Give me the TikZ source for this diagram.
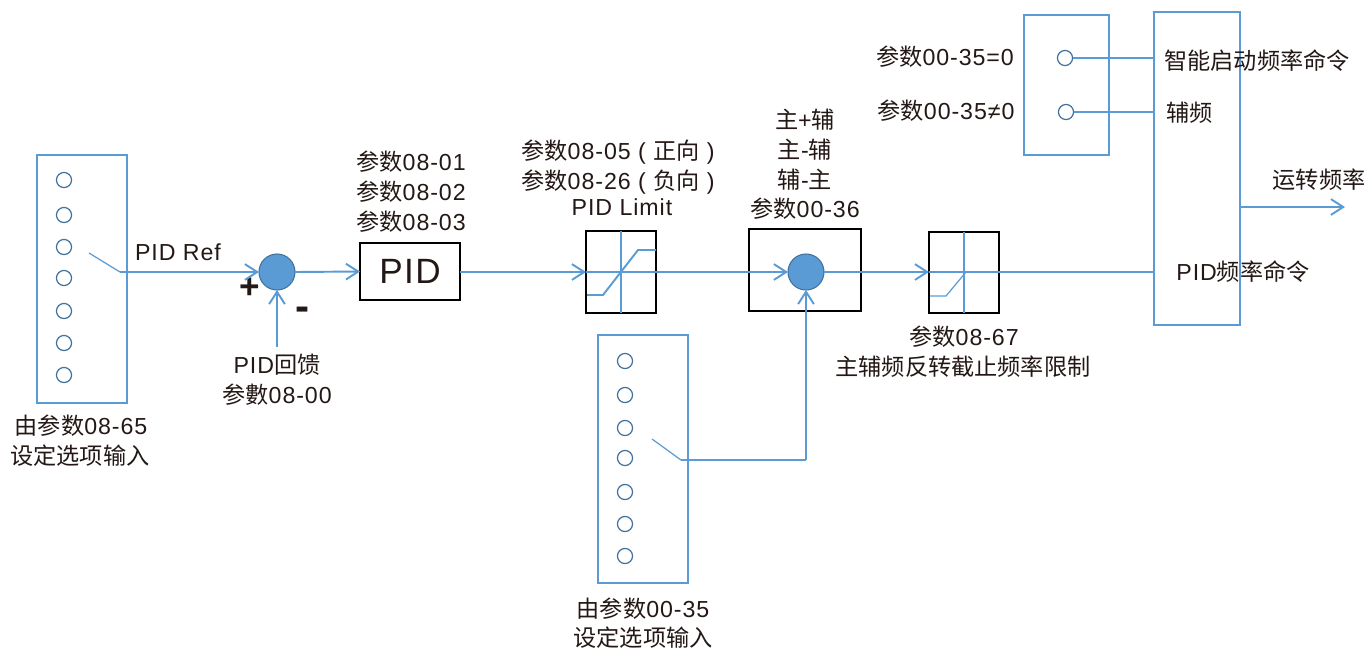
\documentclass[tikz,border=0pt]{standalone}
\usepackage{fontspec}
\setmainfont[LetterSpace=4]{Liberation Sans}
\newfontfamily\cjk{Noto Sans CJK SC}
\usetikzlibrary{arrows.meta}
\definecolor{wireblue}{HTML}{5B9BD5}
\definecolor{ringblue}{HTML}{41719C}
\definecolor{inkblack}{HTML}{231815}
\tikzset{
	wire/.style={draw=wireblue, line width=1.1pt},
	thinwire/.style={draw=wireblue, line width=0.7pt},
	feed/.style={wire, -{Straight Barb[length=7pt,width=9pt]}},
	bluebox/.style={draw=wireblue, line width=0.8pt, inner sep=0, outer sep=0},
	blackbox/.style={draw=black, line width=0.7pt, inner sep=0, outer sep=0},
	ring/.style={circle, draw=ringblue, line width=0.7pt, minimum size=8.6pt, inner sep=0, outer sep=0},
	sumdot/.style={circle, draw=ringblue, fill=wireblue, line width=0.6pt, minimum size=20.5pt, inner sep=0, outer sep=0},
	lbl/.style={text=inkblack, inner sep=0, font=\fontsize{13.2}{16}\selectfont, text height=9.5pt, text depth=2pt},
}
\begin{document}
\begin{tikzpicture}[x=0.02cm, y=-0.02cm]
	\useasboundingbox (0,0) rectangle (1367,650);
	% selector at the left
	\node[bluebox, minimum width=51.2pt, minimum height=141pt] (refbox) at (82,279) {};
	\node[ring] (refa) at (64,180) {};
	\node[ring] (refb) at (64,215) {};
	\node[ring] (refc) at (64,247) {};
	\node[ring] (refd) at (64,278) {};
	\node[ring] (refe) at (64,311) {};
	\node[ring] (reff) at (64,343) {};
	\node[ring] (refg) at (64,375) {};
	\coordinate (refarm) at (89,253);
	\coordinate (refpivot) at (120,272);
	\node[lbl] (reflabela) at (81,428) {{\cjk 由参数}08-65};
	\node[lbl] (reflabelb) at (80,458) {{\cjk 设定选项输入}};
	\node[lbl] (refname) at (178,254) {PID Ref};

	% PID
	\node[sumdot] (sumpid) at (277,272) {};
	\node[blackbox, minimum width=56.9pt, minimum height=32.4pt, font=\fontsize{20}{24}\selectfont, text=inkblack] (pid) at (410,271.5) {PID};
	\node[lbl, font=\fontsize{20}{24}\bfseries\selectfont] (plus) at (250,292) {+};
	\node[lbl, font=\fontsize{24}{24}\bfseries\selectfont] (minus) at (303,314) {-};
	\coordinate (fbstart) at (277,347);
	\node[lbl] (fblabela) at (277,367) {PID{\cjk 回馈}};
	\node[lbl] (fblabelb) at (277,397) {{\cjk 参數}08-00};
	\node[lbl] (pidpa) at (411,164) {{\cjk 参数}08-01};
	\node[lbl] (pidpb) at (411,194) {{\cjk 参数}08-02};
	\node[lbl] (pidpc) at (411,224) {{\cjk 参数}08-03};

	% limit
	\node[blackbox, minimum width=39.8pt, minimum height=46.7pt] (limit) at (621,272) {};
	\coordinate (limita) at (587,295);
	\coordinate (limitb) at (603,295);
	\coordinate (limitc) at (638,250);
	\coordinate (limitd) at (656,250);
	\node[lbl] (limpa) at (618,153) {{\cjk 参数}08-05 ( {\cjk 正向} )};
	\node[lbl] (limpb) at (618,183) {{\cjk 参数}08-26 ( {\cjk 负向} )};
	\node[lbl] (limname) at (622,209) {PID Limit};

	% main and aux
	\node[blackbox, minimum width=63.7pt, minimum height=46.7pt] (mixbox) at (805,270) {};
	\node[sumdot] (summix) at (806,272) {};
	\node[lbl] (mixa) at (805,122) {{\cjk 主}+{\cjk 辅}};
	\node[lbl] (mixb) at (805,152) {{\cjk 主}-{\cjk 辅}};
	\node[lbl] (mixc) at (805,182) {{\cjk 辅}-{\cjk 主}};
	\node[lbl] (mixd) at (805,211) {{\cjk 参数}00-36};

	% selector at the bottom
	\node[bluebox, minimum width=51.2pt, minimum height=141pt] (auxbox) at (643,459) {};
	\node[ring] (auxa) at (625,361) {};
	\node[ring] (auxb) at (625,395) {};
	\node[ring] (auxc) at (625,428) {};
	\node[ring] (auxd) at (625,458) {};
	\node[ring] (auxe) at (625,492) {};
	\node[ring] (auxf) at (625,524) {};
	\node[ring] (auxg) at (625,556) {};
	\coordinate (auxarm) at (652,439);
	\coordinate (auxpivot) at (681,460);
	\coordinate (auxcorner) at (806,460);
	\node[lbl] (auxlabela) at (643,611) {{\cjk 由参数}00-35};
	\node[lbl] (auxlabelb) at (643,640) {{\cjk 设定选项输入}};

	% reverse cut-off
	\node[blackbox, minimum width=39.8pt, minimum height=46.2pt] (revbox) at (964,272.5) {};
	\coordinate (reva) at (930,296);
	\coordinate (revb) at (946,296);
	\coordinate (revc) at (966,272);
	\node[lbl] (revpa) at (964,339) {{\cjk 参数}08-67};
	\node[lbl] (revpb) at (963,369) {{\cjk 主辅频反转截止频率限制}};

	% output side
	\node[bluebox, minimum width=48.9pt, minimum height=178.1pt] (outbox) at (1197,168.5) {};
	\node[bluebox, minimum width=48.4pt, minimum height=79.7pt] (srcbox) at (1066.5,85) {};
	\node[ring] (srca) at (1065,58) {};
	\node[ring] (srcb) at (1066,112) {};
	\node[lbl] (srcpa) at (945,59) {{\cjk 参数}00-35=0};
	\node[lbl] (srcpb) at (946,113) {{\cjk 参数}00-35≠0};
	\node[lbl] (cmda) at (1257,63) {{\cjk 智能启动频率命令}};
	\node[lbl, anchor=west] (cmdb) at (1166,115) {{\cjk 辅频}};
	\node[lbl] (cmdc) at (1243,274) {PID{\cjk 频率命令}};
	\node[lbl] (runname) at (1319,182) {{\cjk 运转频率}};
	\coordinate (runout) at (1345,207);

	\draw[thinwire] (refarm) -- (refpivot);
	\draw[feed] (refpivot) -- (sumpid.west);
	\draw[feed] (sumpid.east) -- (pid.west);
	\draw[feed] (fbstart) -- (sumpid.south);
	\draw[feed] (pid.east |- sumpid) -- (limit.west |- sumpid);
	\draw[thinwire] (limit.north) -- (limit.south);
	\draw[wire] (limita) -- (limitb) -- (limitc) -- (limitd);
	\draw[feed] (limit.west |- summix) -- (summix.west);
	\draw[thinwire] (auxarm) -- (auxpivot);
	\draw[wire] (auxpivot) -- (auxcorner);
	\draw[feed] (auxcorner) -- (summix.south);
	\draw[feed] (summix.east) -- (revbox.west |- summix);
	\draw[thinwire] (revbox.north) -- (revbox.south);
	\draw[thinwire] (reva) -- (revb) -- (revc);
	\draw[thinwire] (revbox.west |- summix) -- (revbox.east |- summix);
	\draw[wire] (revbox.east |- summix) -- (outbox.west |- summix);
	\draw[thinwire] (srca.east) -- (outbox.west |- srca);
	\draw[thinwire] (srcb.east) -- (outbox.west |- srcb);
	\draw[feed] (outbox.east |- runout) -- (runout);
\end{tikzpicture}
\end{document}
